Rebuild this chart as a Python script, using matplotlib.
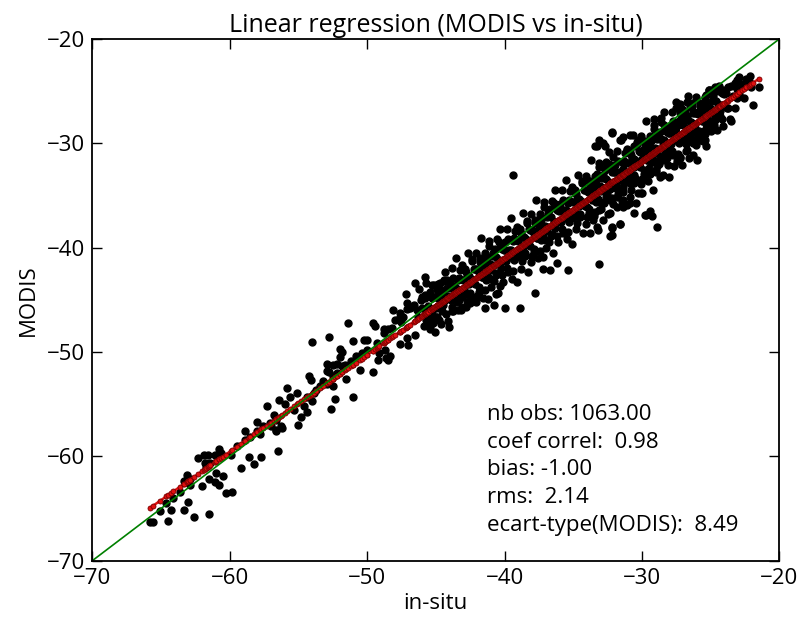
import numpy as np
import matplotlib
matplotlib.use('Agg')
import matplotlib.pyplot as plt

plt.rcParams['font.family'] = ['Open Sans', 'DejaVu Sans']

# sparse part, lower left (in-situ, MODIS)
insitu_low = [-65.8, -65.6, -64.5, -65.1, -64.3, -63.3, -63.0, -62.6, -61.5, -63.1, -63.0, -63.3,
              -62.3, -61.9, -61.6, -61.8, -62.0, -61.5, -61.1, -60.8, -61.0, -60.5, -61.1, -60.8,
              -60.3, -59.8, -59.9, -59.2, -58.6, -58.2, -57.7, -58.9, -58.0, -56.5, -56.6, -56.2,
              -55.0, -61.7, -61.4, -62.9, -61.0, -60.6, -59.5, -58.9, -58.5, -58.0, -57.6, -57.1,
              -56.3, -56.6, -56.6, -64.6, -64.1, -63.6, -62.9, -57.3, -56.8, -56.0, -55.6, -55.3,
              -57.8, -55.8, -56.4, -55.1, -57.0]
modis_low = [-66.3, -66.3, -66.2, -65.2, -65.1, -65.1, -64.4, -65.8, -65.5, -61.8, -62.2, -62.4,
             -60.2, -59.9, -59.9, -60.6, -62.8, -62.2, -62.5, -62.7, -61.6, -61.9, -59.9, -59.3,
             -63.5, -63.4, -59.9, -61.1, -60.1, -60.7, -60.1, -57.6, -56.7, -59.5, -57.5, -57.3,
             -57.0, -61.0, -60.6, -62.2, -60.0, -59.7, -59.0, -58.4, -58.1, -57.6, -57.1, -56.8,
             -57.1, -57.6, -56.5, -64.5, -64.0, -63.4, -62.7, -55.2, -56.0, -55.0, -54.3, -55.6,
             -57.9, -53.4, -54.6, -53.9, -57.1]

# middle part, -55 .. -43
insitu_mid = [-54.0, -52.8, -51.4, -51.0, -50.2, -50.0, -49.6, -49.4, -52.0, -51.8, -52.0, -52.9,
              -52.5, -52.2, -51.8, -52.9, -52.8, -54.2, -54.1, -52.9, -52.5, -51.5, -50.5, -49.6,
              -54.0, -52.3, -51.0, -52.6, -54.6, -54.4, -54.8, -49.1, -48.7, -48.3, -48.5, -49.2,
              -48.6, -48.8, -48.5, -48.1, -47.6, -47.4, -48.0, -47.5, -47.2, -46.5, -46.2, -46.0,
              -45.8, -45.7, -47.1, -46.9, -46.4, -46.3, -46.5, -47.1, -47.6, -47.0, -45.7, -45.3,
              -45.2, -44.9, -45.3, -44.7, -44.5, -44.9, -44.7, -44.2, -43.7, -43.5,
              -48.8, -48.2, -49.3, -50.0, -50.4, -50.8, -51.2, -51.6, -52.2, -52.5, -53.2, -53.4,
              -53.7, -53.9, -54.4, -47.6, -47.1, -46.6, -46.1, -45.8, -45.4, -44.9, -44.4,
              -45.9, -45.7, -45.55, -45.4, -45.3, -45.2, -45.1, -45.05,
              -44.95, -44.85, -44.75, -44.65, -44.55, -44.45, -44.35, -44.25, -44.15, -44.05]
modis_mid = [-49.0, -48.6, -47.2, -48.9, -48.8, -48.8, -47.2, -47.5, -49.7, -50.0, -50.5, -51.1,
             -51.2, -51.1, -51.3, -51.8, -51.9, -52.3, -52.7, -53.1, -53.3, -52.6, -51.7, -51.9,
             -54.7, -54.5, -54.3, -55.5, -55.2, -55.7, -56.2, -50.1, -49.8, -50.4, -50.8, -50.8,
             -50.6, -47.8, -47.8, -46.0, -46.3, -46.6, -46.9, -47.1, -44.4, -43.4, -44.0, -44.7,
             -42.8, -43.4, -45.3, -45.8, -46.0, -46.6, -48.4, -48.7, -49.2, -49.3, -46.3, -46.9,
             -47.2, -46.6, -44.7, -45.0, -44.4, -44.0, -43.4, -43.1, -43.7, -44.0,
             -48.2, -47.7, -49.1, -49.8, -50.1, -50.4, -50.9, -51.2, -52.0, -52.3, -52.8, -53.3,
             -53.6, -53.9, -54.3, -46.6, -45.9, -45.5, -45.0, -44.5, -44.2, -43.7, -43.1,
             -44.8, -46.9, -45.6, -47.5, -43.6, -45.9, -44.7, -48.1,
             -46.6, -43.5, -44.9, -47.3, -44.1, -45.5, -42.3, -46.4, -44.6, -47.6]

# dense part, -44 .. -22
insitu_core = [
    -43.95, -43.88, -43.8, -43.72, -43.65, -43.58, -43.5, -43.43, -43.36, -43.29, -43.22, -43.15, -43.08, -43.02,
    -42.95, -42.88, -42.8, -42.72, -42.65, -42.58, -42.5, -42.43, -42.36, -42.29, -42.22, -42.15, -42.08, -42.02,
    -41.95, -41.88, -41.8, -41.72, -41.65, -41.58, -41.5, -41.43, -41.36, -41.29, -41.22, -41.15, -41.08, -41.02,
    -40.95, -40.88, -40.8, -40.72, -40.65, -40.58, -40.5, -40.43, -40.36, -40.29, -40.22, -40.15, -40.08, -40.02,
    -39.95, -39.88, -39.8, -39.72, -39.65, -39.58, -39.5, -39.43, -39.36, -39.29, -39.22, -39.15, -39.08, -39.02,
    -38.95, -38.88, -38.8, -38.72, -38.65, -38.58, -38.5, -38.43, -38.36, -38.29, -38.22, -38.15, -38.08, -38.02,
    -37.95, -37.88, -37.8, -37.72, -37.65, -37.58, -37.5, -37.43, -37.36, -37.29, -37.22, -37.15, -37.08, -37.02,
    -36.95, -36.88, -36.8, -36.72, -36.65, -36.58, -36.5, -36.43, -36.36, -36.29, -36.22, -36.15, -36.08, -36.02,
    -35.95, -35.88, -35.8, -35.72, -35.65, -35.58, -35.5, -35.43, -35.36, -35.29, -35.22, -35.15, -35.08, -35.02,
    -34.95, -34.88, -34.8, -34.72, -34.65, -34.58, -34.5, -34.43, -34.36, -34.29, -34.22, -34.15, -34.08, -34.02,
    -33.95, -33.88, -33.8, -33.72, -33.65, -33.58, -33.5, -33.43, -33.36, -33.29, -33.22, -33.15, -33.08, -33.02,
    -32.95, -32.88, -32.8, -32.72, -32.65, -32.58, -32.5, -32.43, -32.36, -32.29, -32.22, -32.15, -32.08, -32.02,
    -31.95, -31.88, -31.8, -31.72, -31.65, -31.58, -31.5, -31.43, -31.36, -31.29, -31.22, -31.15, -31.08, -31.02,
    -30.95, -30.88, -30.8, -30.72, -30.65, -30.58, -30.5, -30.43, -30.36, -30.29, -30.22, -30.15, -30.08, -30.02,
    -29.95, -29.88, -29.8, -29.72, -29.65, -29.58, -29.5, -29.43, -29.36, -29.29, -29.22, -29.15, -29.08, -29.02,
    -28.95, -28.88, -28.8, -28.72, -28.65, -28.58, -28.5, -28.43, -28.36, -28.29, -28.22, -28.15, -28.08, -28.02,
    -27.95, -27.88, -27.8, -27.72, -27.65, -27.58, -27.5, -27.43, -27.36, -27.29, -27.22, -27.15, -27.08, -27.02,
    -26.95, -26.88, -26.8, -26.72, -26.65, -26.58, -26.5, -26.43, -26.36, -26.29, -26.22, -26.15, -26.08, -26.02,
    -25.95, -25.88, -25.8, -25.65, -25.58, -25.5, -25.43, -25.36, -25.29, -25.15, -25.08, -25.02,
    -24.95, -24.88, -24.8, -24.72, -24.65, -24.5, -24.43, -24.36, -24.29, -24.15, -24.08, -24.02,
    -23.9, -23.75, -23.6, -23.5, -23.35, -23.2, -23.1, -23.05,
    -22.9, -22.7, -22.55, -22.4, -22.2, -22.05]
modis_core = [
    -43.3, -45.0, -41.9, -46.1, -43.9, -44.3, -41.0, -45.2, -43.1, -45.0, -42.1, -44.1, -45.7, -43.1,
    -44.4, -42.0, -45.7, -42.7, -40.5, -43.5, -44.5, -43.0, -41.1, -44.9, -42.0, -43.5, -40.5, -44.6,
    -42.2, -44.2, -41.4, -39.1, -42.8, -44.8, -41.5, -40.5, -43.1, -42.1, -44.9, -39.4, -41.6, -43.0,
    -43.8, -40.8, -41.7, -40.1, -42.6, -39.2, -44.3, -41.2, -38.2, -41.9, -39.7, -42.6, -41.3, -40.2,
    -39.5, -41.3, -38.2, -42.3, -40.2, -40.6, -37.2, -43.0, -39.4, -41.2, -38.4, -40.4, -43.3, -39.4,
    -40.7, -38.2, -42.0, -39.0, -36.7, -39.8, -40.8, -39.2, -37.4, -42.3, -38.2, -39.8, -36.8, -40.8,
    -38.5, -40.4, -37.6, -35.4, -39.1, -41.0, -37.8, -36.8, -39.3, -38.4, -42.0, -35.6, -37.9, -39.3,
    -40.0, -37.1, -38.0, -36.3, -38.9, -35.5, -40.5, -37.5, -34.5, -38.1, -36.0, -38.9, -37.5, -36.5,
    -35.8, -37.5, -34.5, -38.6, -36.4, -36.9, -33.5, -39.2, -35.7, -37.5, -34.6, -36.7, -39.6, -35.6,
    -37.0, -34.5, -38.2, -35.3, -33.0, -36.0, -37.1, -35.5, -33.6, -38.6, -34.5, -36.0, -33.1, -37.1,
    -34.7, -36.7, -33.9, -31.6, -35.4, -37.3, -34.0, -33.1, -35.6, -34.6, -38.3, -31.9, -34.1, -35.6,
    -36.3, -33.3, -34.3, -32.6, -35.1, -31.8, -36.8, -33.7, -30.8, -34.4, -32.2, -35.2, -33.8, -32.7,
    -32.1, -33.8, -30.7, -34.9, -32.7, -33.1, -29.7, -35.5, -31.9, -33.8, -30.9, -32.9, -35.9, -31.9,
    -33.2, -30.8, -34.5, -31.5, -29.2, -32.3, -33.3, -31.7, -29.9, -34.8, -30.7, -32.3, -29.3, -33.4,
    -31.0, -32.9, -30.2, -27.9, -31.6, -33.6, -30.3, -29.3, -31.8, -30.9, -34.5, -28.2, -30.4, -31.8,
    -32.6, -29.6, -30.5, -28.9, -31.4, -28.0, -33.0, -30.0, -27.0, -30.6, -28.5, -31.4, -30.1, -29.0,
    -28.3, -30.1, -27.0, -31.1, -28.9, -29.4, -26.0, -31.7, -28.2, -30.0, -27.1, -29.2, -32.1, -28.2,
    -29.5, -27.0, -30.7, -27.8, -25.5, -28.5, -29.6, -28.0, -26.1, -31.1, -27.0, -28.5, -25.6, -29.6,
    -27.2, -29.2, -26.4, -27.9, -29.8, -26.5, -25.6, -28.1, -27.1, -24.9, -26.6, -28.1,
    -28.8, -25.9, -26.8, -25.1, -27.6, -28.7, -26.2, -25.0, -26.9, -27.7, -26.3, -25.3,
    -25.2, -26.6, -27.7, -24.5, -25.5, -26.6, -24.8, -25.7,
    -25.3, -24.3, -25.7, -24.5, -24.0, -24.6]

# second layer of the dense part, close to the fit
insitu_core2 = [
    -45.97, -45.83, -45.76, -45.61, -45.54, -45.39, -45.31, -45.17, -45.1,
    -44.97, -44.83, -44.76, -44.61, -44.54, -44.39, -44.31, -44.17, -44.1,
    -43.97, -43.83, -43.76, -43.61, -43.54, -43.39, -43.31, -43.17, -43.1,
    -42.97, -42.83, -42.76, -42.61, -42.54, -42.39, -42.31, -42.17, -42.1,
    -41.97, -41.83, -41.76, -41.61, -41.54, -41.39, -41.31, -41.17, -41.1,
    -40.97, -40.83, -40.76, -40.61, -40.54, -40.39, -40.31, -40.17, -40.1,
    -39.97, -39.83, -39.76, -39.61, -39.54, -39.39, -39.31, -39.17, -39.1,
    -38.97, -38.83, -38.76, -38.61, -38.54, -38.39, -38.31, -38.17, -38.1,
    -37.97, -37.83, -37.76, -37.61, -37.54, -37.39, -37.31, -37.17, -37.1,
    -36.97, -36.83, -36.76, -36.61, -36.54, -36.39, -36.31, -36.17, -36.1,
    -35.97, -35.83, -35.76, -35.61, -35.54, -35.39, -35.31, -35.17, -35.1,
    -34.97, -34.83, -34.76, -34.61, -34.54, -34.39, -34.31, -34.17, -34.1,
    -33.97, -33.83, -33.76, -33.61, -33.54, -33.39, -33.31, -33.17, -33.1,
    -32.97, -32.83, -32.76, -32.61, -32.54, -32.39, -32.31, -32.17, -32.1,
    -31.97, -31.83, -31.76, -31.61, -31.54, -31.39, -31.31, -31.17, -31.1,
    -30.97, -30.83, -30.76, -30.61, -30.54, -30.39, -30.31, -30.17, -30.1,
    -29.97, -29.83, -29.76, -29.61, -29.54, -29.39, -29.31, -29.17, -29.1,
    -28.97, -28.83, -28.76, -28.61, -28.54, -28.39, -28.31, -28.17, -28.1,
    -27.97, -27.83, -27.76, -27.61, -27.54, -27.39, -27.31, -27.17, -27.1,
    -26.97, -26.83, -26.76, -26.61, -26.54, -26.39, -26.31, -26.17, -26.1,
    -25.97, -25.83, -25.76, -25.61, -25.54, -25.39, -25.31, -25.17, -25.1,
    -24.97, -24.83, -24.76, -24.61, -24.54, -24.39, -24.31, -24.17, -24.1]
modis_core2 = [
    -45.8, -47.5, -44.8, -46.5, -45.8, -47.8, -44.8, -46.5, -43.6,
    -45.8, -44.2, -46.9, -44.6, -46.1, -43.2, -45.0, -43.9, -47.0,
    -43.9, -45.7, -42.9, -44.7, -43.9, -46.0, -42.9, -44.7, -41.7,
    -44.0, -42.3, -45.1, -42.7, -44.3, -41.3, -43.1, -42.0, -45.2,
    -42.0, -43.8, -41.0, -42.8, -42.0, -44.1, -41.0, -42.8, -39.8,
    -42.1, -40.5, -43.2, -40.9, -42.4, -39.5, -41.3, -40.1, -43.3,
    -40.2, -41.9, -39.2, -40.9, -40.2, -42.2, -39.1, -40.9, -38.0,
    -40.2, -38.6, -41.3, -39.0, -40.5, -37.6, -39.4, -38.3, -41.4,
    -38.3, -40.1, -37.3, -39.1, -38.3, -40.3, -37.3, -39.0, -36.1,
    -38.4, -36.7, -39.5, -37.1, -38.7, -35.7, -37.5, -36.4, -39.5,
    -36.4, -38.2, -35.4, -37.2, -36.4, -38.5, -35.4, -37.2, -34.2,
    -36.5, -34.9, -37.6, -35.3, -36.8, -33.8, -35.7, -34.5, -37.7,
    -34.5, -36.3, -33.6, -35.3, -34.5, -36.6, -33.5, -35.3, -32.3,
    -34.6, -33.0, -35.7, -33.4, -34.9, -32.0, -33.8, -32.7, -35.8,
    -32.7, -34.4, -31.7, -33.4, -32.7, -34.7, -31.7, -33.4, -30.5,
    -32.7, -31.1, -33.9, -31.5, -33.0, -30.1, -31.9, -30.8, -33.9,
    -30.8, -32.6, -29.8, -31.6, -30.8, -32.9, -29.8, -31.6, -28.6,
    -30.9, -29.2, -32.0, -29.6, -31.2, -28.2, -30.1, -28.9, -32.1,
    -28.9, -30.7, -27.9, -29.7, -28.9, -31.0, -27.9, -29.7, -26.7,
    -29.0, -27.4, -30.1, -27.8, -29.3, -26.4, -28.2, -27.1, -30.2,
    -27.1, -28.8, -26.1, -27.8, -27.1, -29.1, -26.1, -27.8, -24.9,
    -27.1, -25.5, -28.2, -25.9, -27.4, -24.5, -26.3, -25.2, -28.3]

# edges of the cloud, -44 .. -21.5
insitu_edge = [-39.4, -37.8, -35.4, -33.1, -38.9, -40.0, -40.8, -41.4, -42.5, -43.2, -43.8, -40.6,
               -40.3, -36.7, -36.2, -37.2, -32.3, -32.2, -31.6, -31.4, -30.9, -29.7, -32.2, -33.3,
               -32.8, -31.4, -30.9, -30.3, -29.9, -30.1, -30.7, -31.4, -31.6, -32.1, -30.6, -30.0,
               -29.4,
               -32.2, -33.4, -32.7, -33.1, -29.1, -28.6, -27.2, -26.7, -27.5, -27.0, -26.5, -24.9,
               -24.7, -25.3, -24.1, -23.7, -23.2, -22.9, -22.4, -22.1, -23.1, -21.5, -21.9, -23.5,
               -23.8, -24.7, -25.4, -26.0, -26.6, -27.2, -25.3, -25.4, -25.9, -26.3, -28.0, -28.7,
               -29.0, -29.5, -29.4, -28.9, -29.8, -29.3, -32.2, -32.2, -31.6, -30.6, -30.4, -30.1,
               -30.9, -31.4, -31.8, -32.3, -33.1, -33.5, -34.0,
               -29.2, -28.4, -28.0, -27.5, -27.2, -26.7, -26.3, -25.8, -28.2, -28.9, -29.7, -30.1,
               -30.6, -31.1, -31.6, -32.1, -32.6, -33.3, -34.0,
               -27.2, -27.7, -28.4, -28.9, -29.7, -30.1, -30.9, -31.4, -31.8, -32.3, -32.8, -33.3,
               -33.8, -28.2, -26.7, -26.3, -25.8, -24.8, -24.3]
modis_edge = [-33.0, -44.3, -42.1, -41.6, -45.8, -45.8, -45.5, -45.8, -45.3, -46.0, -46.1, -44.4,
              -43.7, -42.1, -41.5, -40.9, -38.9, -38.1, -37.7, -36.1, -35.7, -36.9, -29.0, -30.3,
              -30.0, -29.4, -29.2, -29.7, -30.6, -31.6, -31.9, -32.5, -33.5, -34.1, -33.8, -34.8,
              -32.8,
              -28.9, -30.3, -30.3, -29.7, -27.7, -27.6, -26.2, -26.0, -26.6, -27.0, -26.5, -24.9,
              -24.6, -25.4, -24.9, -24.6, -24.2, -23.6, -23.8, -23.5, -23.9, -24.6, -26.3, -27.9,
              -26.6, -27.8, -28.7, -31.6, -31.4, -31.4, -30.3, -29.7, -29.4, -29.0, -33.2, -33.2,
              -32.7, -32.4, -36.5, -38.0, -36.9, -37.0, -38.0, -38.8, -37.7, -36.7, -35.7, -34.8,
              -33.8, -34.2, -35.1, -35.4, -36.4, -37.0, -36.1,
              -29.4, -29.7, -29.0, -28.4, -27.8, -27.4, -27.1, -26.8, -30.3, -30.6, -31.0, -29.7,
              -30.3, -30.6, -29.7, -31.3, -32.2, -32.9, -33.5,
              -31.3, -32.2, -31.6, -32.2, -32.9, -33.5, -35.1, -35.4, -36.1, -36.7, -37.3, -38.0,
              -38.6, -31.1, -30.6, -30.0, -29.7, -28.1, -27.4]

insitu = np.array(insitu_low + insitu_mid + insitu_core + insitu_core2 + insitu_edge)
modis = np.array(modis_low + modis_mid + modis_core + modis_core2 + modis_edge)

lims = [-70, -20]
stats_lines = ['nb obs: 1063.00', 'coef correl:  0.98', 'bias: -1.00', 'rms:  2.14',
               'ecart-type(MODIS):  8.49']

slope, intercept = np.polyfit(insitu, modis, 1)
order = np.argsort(insitu)
fit = slope * insitu[order] + intercept

fig = plt.figure(figsize=(8.06, 6.18), dpi=100)
ax = fig.add_axes([0.1145, 0.0927, 0.8524, 0.8442])
ax.plot(insitu, modis, 'o', color='k', mec='k', ms=5)
ax.plot(insitu[order], fit, '-o', color='#e01010', mec='#7a0000', mew=0.6, ms=3.6, lw=1.8)
ax.plot(lims, lims, '-', color='#008000', lw=1.2)
ax.set_xlim(lims)
ax.set_ylim(lims)

for i, s in enumerate(stats_lines):
    ax.text(-41.3, -56.5 - 2.66 * i, s, fontsize=16, va='baseline', ha='left')

ax.set_title('Linear regression (MODIS vs in-situ)', fontsize=18, pad=5)
ax.set_xlabel('in-situ', fontsize=16, labelpad=3)
ax.set_ylabel('MODIS', fontsize=16, labelpad=6)
ax.tick_params(direction='in', top=True, right=True, length=7, width=1, labelsize=16, pad=5)
for sp in ax.spines.values():
    sp.set_linewidth(1.3)

fig.savefig('out.png', dpi=100, facecolor='white')
